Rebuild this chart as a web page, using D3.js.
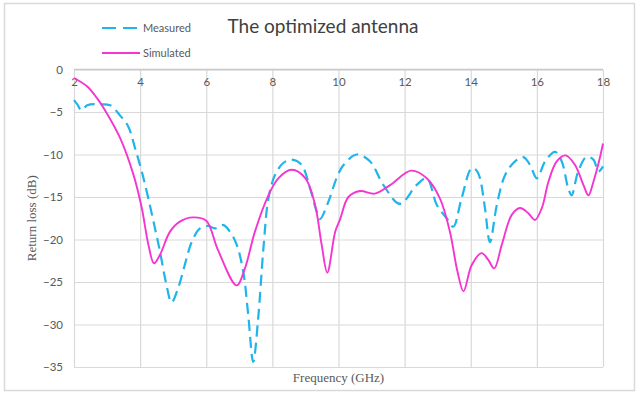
<!DOCTYPE html>
<html>
<head>
<meta charset="utf-8">
<script src="https://cdn.jsdelivr.net/npm/d3@7"></script>
<style>
  html, body { margin: 0; padding: 0; background: #fff; }
  svg { display: block; }
</style>
</head>
<body>
<svg id="chart" width="636" height="394"></svg>
<script>
// Return loss of the optimized antenna, 2–18 GHz
const measuredFreq = [2.0, 2.1, 2.23, 2.4, 2.8, 3.09, 3.39, 3.64, 3.85, 4.05, 4.25, 4.45, 4.6, 4.8, 4.95, 5.15, 5.35, 5.56, 5.81, 6.06, 6.26, 6.52, 6.72, 6.92, 7.12, 7.27, 7.42, 7.57, 7.73, 7.88, 8.08, 8.33, 8.58, 8.88, 9.14, 9.34, 9.44, 9.69, 9.94, 10.14, 10.55, 10.95, 11.36, 11.86, 12.36, 12.67, 12.97, 13.27, 13.47, 13.72, 14.03, 14.18, 14.28, 14.43, 14.58, 14.79, 15.04, 15.34, 15.59, 15.79, 16.0, 16.25, 16.55, 16.75, 16.95, 17.05, 17.25, 17.5, 17.71, 17.86, 18.0];
const measuredLoss = [-3.6, -4.1, -4.8, -4.2, -4.1, -4.2, -5.4, -6.7, -9.3, -12.0, -15.2, -18.7, -21.4, -25.4, -27.4, -25.7, -23.0, -20.3, -18.7, -18.4, -18.7, -18.3, -19.1, -20.6, -23.8, -28.9, -34.4, -29.3, -21.0, -15.2, -12.4, -11.0, -10.6, -11.2, -14.0, -16.7, -17.6, -15.6, -12.8, -11.3, -10.0, -10.8, -13.6, -15.8, -13.6, -12.8, -15.9, -17.5, -18.5, -15.2, -11.6, -11.9, -12.8, -16.3, -20.3, -15.9, -12.4, -10.8, -10.3, -11.2, -12.8, -10.8, -9.7, -10.8, -14.0, -14.8, -12.0, -10.3, -10.6, -12.0, -11.4];

const simulatedFreq = [2.0, 2.4, 2.7, 3.0, 3.4, 3.8, 4.05, 4.25, 4.42, 4.6, 4.9, 5.2, 5.6, 6.0, 6.35, 6.92, 7.17, 7.47, 7.88, 8.18, 8.58, 9.0, 9.29, 9.49, 9.66, 9.9, 10.05, 10.3, 10.65, 11.1, 11.56, 12.2, 12.67, 13.07, 13.37, 13.6, 13.78, 14.03, 14.33, 14.53, 14.71, 14.94, 15.24, 15.49, 15.74, 15.94, 16.15, 16.35, 16.6, 16.87, 17.15, 17.41, 17.56, 17.71, 17.88, 18.0];
const simulatedLoss = [-1.0, -2.0, -3.4, -5.2, -8.1, -12.4, -16.3, -20.6, -22.8, -21.8, -19.1, -17.9, -17.4, -17.8, -21.2, -25.4, -23.4, -19.1, -14.8, -12.8, -11.8, -12.8, -15.9, -20.6, -23.9, -19.1, -17.6, -15.0, -14.3, -14.6, -13.6, -11.9, -12.8, -15.2, -19.1, -23.8, -26.1, -23.0, -21.6, -22.4, -23.4, -20.6, -17.1, -16.3, -16.9, -17.7, -16.3, -13.2, -10.8, -10.1, -11.2, -13.6, -14.8, -13.2, -10.8, -8.7];

const xTicks = [2, 4, 6, 8, 10, 12, 14, 16, 18];
const yTicks = [0, -5, -10, -15, -20, -25, -30, -35];
const seriesNames = ["Measured", "Simulated"];

const svg = d3.select("#chart");
const W = 636, H = 394;
const plot = { left: 74, right: 603, top: 69.5, bottom: 367 };

const x = d3.scaleLinear().domain([2, 18]).range([plot.left, plot.right]);
const y = d3.scaleLinear().domain([0, -35]).range([plot.top, plot.bottom]);

const labelFont = "Lato, 'Open Sans', sans-serif";
const serifFont = "'Liberation Serif', 'DejaVu Serif', serif";
const textGray = "#595959";
const gridGray = "#d9d9d9";

// outer frame
svg.append("rect")
  .attr("x", 4.5).attr("y", 3.5)
  .attr("width", W - 6).attr("height", H - 7)
  .attr("fill", "#fff").attr("stroke", gridGray).attr("stroke-width", 1.5);

// vertical gridlines with labels just under the 0 dB line
const xAxis = d3.axisTop(x).tickValues(xTicks).tickSize(-(plot.bottom - plot.top)).tickPadding(-16).tickFormat(d3.format("d"));
const gx = svg.append("g").attr("transform", `translate(0,${plot.top})`).call(xAxis);
gx.select(".domain").remove();
gx.selectAll(".tick line").attr("stroke", gridGray).attr("stroke-width", 1.2);
gx.selectAll(".tick text")
  .attr("fill", textGray).attr("font-family", labelFont).attr("font-size", 11.5);

// horizontal gridlines and dB labels
const yAxis = d3.axisLeft(y).tickValues(yTicks).tickSize(-(plot.right - plot.left)).tickPadding(11).tickFormat(d3.format("d"));
const gy = svg.append("g").attr("transform", `translate(${plot.left},0)`).call(yAxis);
gy.select(".domain").remove();
gy.selectAll(".tick line").attr("stroke", gridGray).attr("stroke-width", 1.2);
gy.selectAll(".tick text")
  .attr("fill", textGray).attr("font-family", labelFont).attr("font-size", 11.5);

// 0 dB axis line across the top
svg.append("line")
  .attr("x1", plot.left).attr("x2", plot.right)
  .attr("y1", y(0)).attr("y2", y(0))
  .attr("stroke", "#c8c8c8").attr("stroke-width", 1.6);

// curves
const line = d3.line()
  .x(d => x(d[0]))
  .y(d => y(d[1]))
  .curve(d3.curveCatmullRom.alpha(0.5));

const measured = measuredFreq.map((f, i) => [f, measuredLoss[i]]);
const simulated = simulatedFreq.map((f, i) => [f, simulatedLoss[i]]);

const blue = "#1fb4ea";
const pink = "#f535d0";

svg.append("path").datum(measured)
  .attr("d", line).attr("fill", "none")
  .attr("stroke", blue).attr("stroke-width", 2.2)
  .attr("stroke-dasharray", "11,6");

svg.append("path").datum(simulated)
  .attr("d", line).attr("fill", "none")
  .attr("stroke", pink).attr("stroke-width", 1.9);

// title
svg.append("text")
  .attr("x", 323).attr("y", 33)
  .attr("text-anchor", "middle")
  .attr("font-family", labelFont).attr("font-size", 19)
  .attr("fill", "#404040")
  .text("The optimized antenna");

// legend
const legend = svg.append("g");
const legendRows = [
  { name: seriesNames[0], color: blue, dash: "14,7", width: 2.2, y: 28 },
  { name: seriesNames[1], color: pink, dash: null, width: 1.9, y: 53 }
];
legendRows.forEach(r => {
  legend.append("line")
    .attr("x1", 102).attr("x2", 140).attr("y1", r.y).attr("y2", r.y)
    .attr("stroke", r.color).attr("stroke-width", r.width)
    .attr("stroke-dasharray", r.dash);
  legend.append("text")
    .attr("x", 143).attr("y", r.y).attr("dy", "0.35em")
    .attr("font-family", labelFont).attr("font-size", 11)
    .attr("fill", textGray)
    .text(r.name);
});

// axis titles
svg.append("text")
  .attr("x", (plot.left + plot.right) / 2).attr("y", 382)
  .attr("text-anchor", "middle")
  .attr("font-family", serifFont).attr("font-size", 13)
  .attr("fill", textGray)
  .text("Frequency (GHz)");

svg.append("text")
  .attr("transform", `translate(36,${(plot.top + plot.bottom) / 2}) rotate(-90)`)
  .attr("text-anchor", "middle")
  .attr("font-family", serifFont).attr("font-size", 13)
  .attr("fill", textGray)
  .text("Return loss (dB)");
</script>
</body>
</html>
